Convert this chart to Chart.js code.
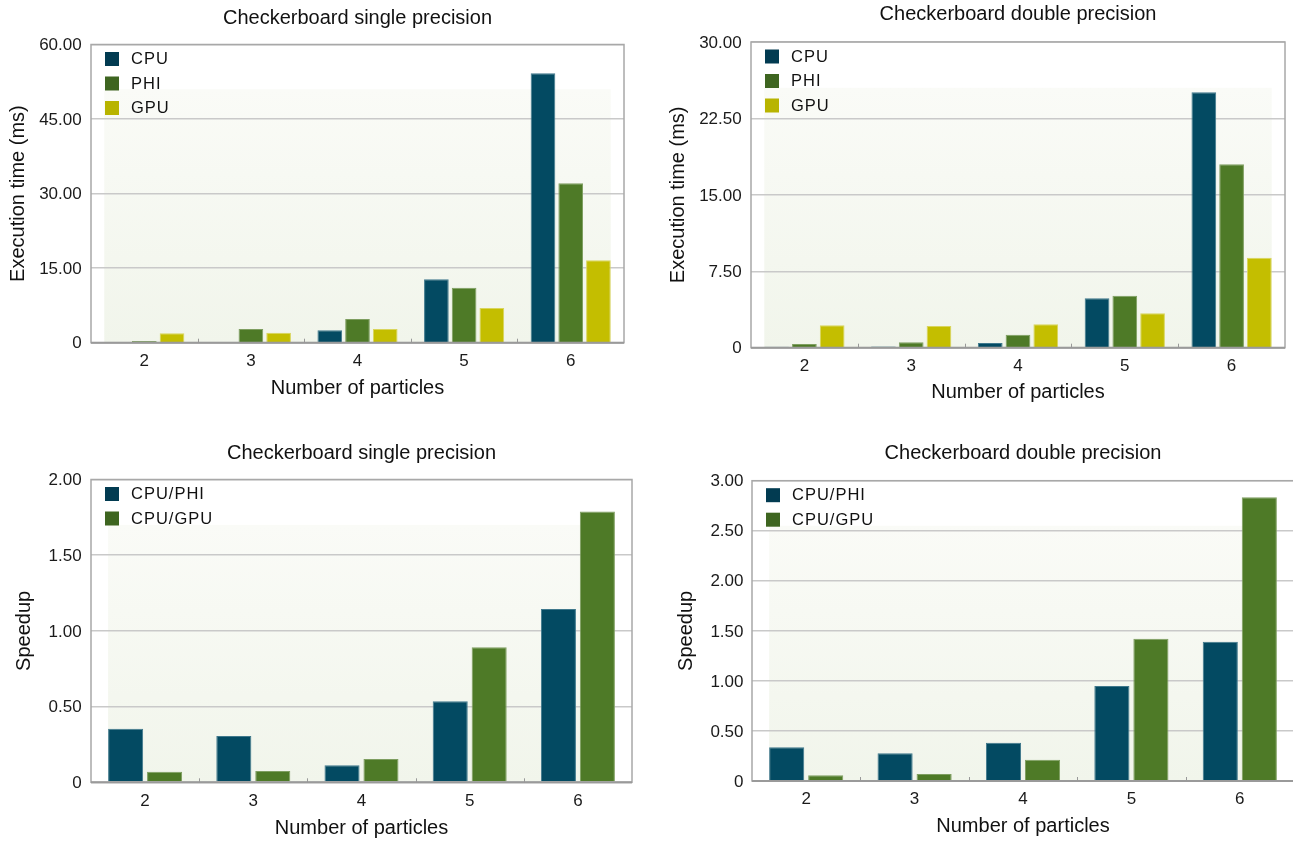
<!DOCTYPE html>
<html>
<head>
<meta charset="utf-8">
<script src="https://cdn.jsdelivr.net/npm/chart.js@4.4.1/dist/chart.umd.min.js"></script>
<style>
  html, body { margin: 0; padding: 0; background: #fff; overflow: hidden; }
  #page { position: relative; width: 1293px; height: 841px; overflow: hidden; }
  canvas { position: absolute; }
</style>
</head>
<body>
<div id="page">
  <canvas id="execSingle" width="650" height="420" style="left:0;top:0"></canvas>
  <canvas id="execDouble" width="650" height="420" style="left:650px;top:0"></canvas>
  <canvas id="speedSingle" width="650" height="421" style="left:0;top:420px"></canvas>
  <canvas id="speedDouble" width="650" height="421" style="left:650px;top:420px"></canvas>
</div>
<script>
// Number of particles (x categories)
const particles = ['2', '3', '4', '5', '6'];

// Execution time (ms), single precision
const cpuSingle = [0.03, 0.14, 2.5, 12.75, 54.2];
const phiSingle = [0.34, 2.76, 4.77, 11.07, 32.1];
const gpuSingle = [1.89, 2.0, 2.76, 7.0, 16.6];

// Execution time (ms), double precision
const cpuDouble = [0.1, 0.13, 0.46, 4.85, 25.06];
const phiDouble = [0.36, 0.53, 1.28, 5.1, 18.0];
const gpuDouble = [2.2, 2.13, 2.3, 3.37, 8.83];

// Speedup, single precision
const cpuPhiSingle = [0.354, 0.306, 0.112, 0.535, 1.145];
const cpuGpuSingle = [0.07, 0.075, 0.154, 0.892, 1.788];

// Speedup, double precision
const cpuPhiDouble = [0.337, 0.277, 0.383, 0.949, 1.392];
const cpuGpuDouble = [0.057, 0.07, 0.213, 1.422, 2.834];

// Y axis ticks
const execSingleTicks = [0, 15, 30, 45, 60];
const execDoubleTicks = [0, 7.5, 15, 22.5, 30];
const speedSingleTicks = [0, 0.5, 1, 1.5, 2];
const speedDoubleTicks = [0, 0.5, 1, 1.5, 2, 2.5, 3];

const FONT = '"Liberation Sans", Arial, Helvetica, sans-serif';
Chart.defaults.font.family = FONT;

const TITLE_SIZE = 20;
const TICK_SIZE = 17;

const TEAL = { bar: '#034a62', edge: '#3f788c', key: '#023b51' };
const GREEN = { bar: '#4e7a27', edge: '#7e9e60', key: '#3e6520' };
const YELLOW = { bar: '#c4be00', edge: '#d9d55c', key: '#b8b400' };

// Background band, frame, title and in-plot legend
const panelPlugin = {
    id: 'panel',
    beforeDraw: function(chart) {
        const ctx = chart.ctx;
        const a = chart.chartArea;
        const first = chart.getDatasetMeta(0).data[0];
        const lastMeta = chart.getDatasetMeta(chart.data.datasets.length - 1);
        const last = lastMeta.data[lastMeta.data.length - 1];
        const left = first.x - first.width / 2;
        const right = last.x + last.width / 2;
        const top = a.top + (a.bottom - a.top) * 0.15;
        const g = ctx.createLinearGradient(0, top, 0, a.bottom);
        g.addColorStop(0, '#fafbf7');
        g.addColorStop(1, '#f1f5eb');
        ctx.save();
        ctx.fillStyle = g;
        ctx.fillRect(left, top, right - left, a.bottom - top);
        ctx.restore();
    },
    afterDatasetsDraw: function(chart) {
        const ctx = chart.ctx;
        const a = chart.chartArea;
        const x = chart.scales.x;
        ctx.save();
        ctx.strokeStyle = '#a8a8a8';
        ctx.lineWidth = 1.5;
        ctx.strokeRect(a.left, a.top, a.right - a.left, a.bottom - a.top);
        ctx.strokeStyle = '#9a9a9a';
        ctx.lineWidth = 2;
        ctx.beginPath();
        ctx.moveTo(a.left, a.bottom);
        ctx.lineTo(a.right, a.bottom);
        ctx.stroke();
        // small marks between categories
        ctx.lineWidth = 1;
        ctx.strokeStyle = '#999';
        for (let i = 0; i < particles.length - 1; i++) {
            const bx = Math.round((x.getPixelForValue(i) + x.getPixelForValue(i + 1)) / 2) + 0.5;
            ctx.beginPath();
            ctx.moveTo(bx, a.bottom);
            ctx.lineTo(bx, a.bottom - 4);
            ctx.stroke();
        }
        ctx.restore();
    },
    afterDraw: function(chart, args, opts) {
        const ctx = chart.ctx;
        const a = chart.chartArea;
        ctx.save();
        ctx.fillStyle = '#111';
        ctx.font = TITLE_SIZE + 'px ' + FONT;
        ctx.textAlign = 'center';
        ctx.textBaseline = 'middle';
        ctx.fillText(opts.text, (a.left + a.right) / 2, opts.y);

        ctx.font = '16.5px ' + FONT;
        ctx.textAlign = 'left';
        if ('letterSpacing' in ctx) ctx.letterSpacing = '1px';
        chart.data.datasets.forEach(function(ds, i) {
            const y = a.top + 14.5 + i * 24.5;
            ctx.fillStyle = ds.keyColor;
            ctx.fillRect(a.left + 14, y - 7, 14, 14);
            ctx.fillStyle = '#111';
            ctx.fillText(ds.label, a.left + 40, y + 0.5);
        });
        ctx.restore();
    }
};

function buildChart(id, box, geo, title, yTitle, yTicks, series, catPct, barPct) {
    const canvas = document.getElementById(id);
    const lh = TITLE_SIZE * 1.2;
    const areaL = geo.left - box.x;
    const areaR = geo.right - box.x;
    const areaT = geo.top - box.y;
    const areaB = geo.bottom - box.y;
    const xScaleBottom = geo.xTitleY - box.y + lh / 2 + 4;

    return new Chart(canvas, {
        type: 'bar',
        data: {
            labels: particles,
            datasets: series.map(function(s) {
                return {
                    label: s.label,
                    data: s.data,
                    backgroundColor: s.color.bar,
                    borderColor: s.color.edge,
                    borderWidth: 1,
                    keyColor: s.color.key,
                    categoryPercentage: catPct,
                    barPercentage: barPct
                };
            })
        },
        options: {
            responsive: false,
            animation: false,
            layout: {
                padding: { left: 0, top: areaT, right: box.w - areaR, bottom: box.h - xScaleBottom }
            },
            plugins: {
                legend: { display: false },
                tooltip: { enabled: false },
                panel: { text: title, y: geo.titleY - box.y }
            },
            scales: {
                x: {
                    grid: { display: false, drawTicks: false },
                    border: { display: false },
                    ticks: { padding: 8.5, color: '#1a1a1a', font: { size: TICK_SIZE } },
                    title: {
                        display: true,
                        text: 'Number of particles',
                        color: '#111',
                        font: { size: TITLE_SIZE },
                        padding: { top: 0, bottom: 4 }
                    },
                    afterFit: function(s) { s.height = xScaleBottom - areaB; }
                },
                y: {
                    min: yTicks[0],
                    max: yTicks[yTicks.length - 1],
                    afterBuildTicks: function(s) {
                        s.ticks = yTicks.map(function(v) { return { value: v }; });
                    },
                    grid: { color: '#c9c9c9', lineWidth: 1.5, drawTicks: false },
                    border: { display: false },
                    ticks: {
                        padding: geo.left - geo.tickRight,
                        labelOffset: 1,
                        color: '#1a1a1a',
                        font: { size: TICK_SIZE },
                        callback: function(v) { return v === 0 ? '0' : v.toFixed(2); }
                    },
                    title: {
                        display: true,
                        text: yTitle,
                        color: '#111',
                        font: { size: TITLE_SIZE },
                        padding: { top: geo.yTitleX - box.x - lh / 2, bottom: 0 }
                    },
                    afterFit: function(s) { s.width = areaL; }
                }
            }
        },
        plugins: [panelPlugin]
    });
}

buildChart('execSingle',
    { x: 0, y: 0, w: 650, h: 420 },
    { left: 91, right: 624, top: 44.5, bottom: 342.7, yTitleX: 18, xTitleY: 388, titleY: 18.3, tickRight: 81.7 },
    'Checkerboard single precision', 'Execution time (ms)', execSingleTicks,
    [
        { label: 'CPU', data: cpuSingle, color: TEAL },
        { label: 'PHI', data: phiSingle, color: GREEN },
        { label: 'GPU', data: gpuSingle, color: YELLOW }
    ], 0.78, 0.89);

buildChart('execDouble',
    { x: 650, y: 0, w: 650, h: 420 },
    { left: 751, right: 1285, top: 42, bottom: 347.7, yTitleX: 678, xTitleY: 392.7, titleY: 14, tickRight: 741.7 },
    'Checkerboard double precision', 'Execution time (ms)', execDoubleTicks,
    [
        { label: 'CPU', data: cpuDouble, color: TEAL },
        { label: 'PHI', data: phiDouble, color: GREEN },
        { label: 'GPU', data: gpuDouble, color: YELLOW }
    ], 0.78, 0.89);

buildChart('speedSingle',
    { x: 0, y: 420, w: 650, h: 421 },
    { left: 91, right: 632, top: 479.5, bottom: 782.3, yTitleX: 24.6, xTitleY: 828.3, titleY: 453, tickRight: 81.7 },
    'Checkerboard single precision', 'Speedup', speedSingleTicks,
    [
        { label: 'CPU/PHI', data: cpuPhiSingle, color: TEAL },
        { label: 'CPU/GPU', data: cpuGpuSingle, color: GREEN }
    ], 0.72, 0.9);

buildChart('speedDouble',
    { x: 650, y: 420, w: 650, h: 421 },
    { left: 752, right: 1294, top: 480.7, bottom: 781, yTitleX: 686.5, xTitleY: 826.7, titleY: 453.7, tickRight: 743.5 },
    'Checkerboard double precision', 'Speedup', speedDoubleTicks,
    [
        { label: 'CPU/PHI', data: cpuPhiDouble, color: TEAL },
        { label: 'CPU/GPU', data: cpuGpuDouble, color: GREEN }
    ], 0.72, 0.9);
</script>
</body>
</html>
